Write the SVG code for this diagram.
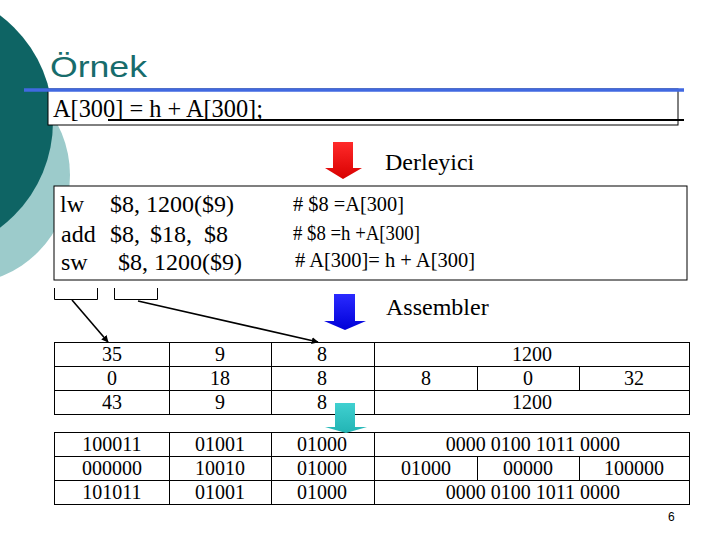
<svg xmlns="http://www.w3.org/2000/svg" width="720" height="540" viewBox="0 0 720 540">
<style>
.serif{font-family:"Liberation Serif","Times New Roman",serif;fill:#000}
.code{font-size:24px}
.cmt{font-size:20px}
.cell{font-size:20px;text-anchor:middle}
.ln{stroke:#000;stroke-width:1;fill:none}
.conn{stroke:#000;stroke-width:1.6;fill:none;marker-end:url(#ah)}
</style>
<defs>
<marker id="ah" viewBox="0 0 10 10" refX="9" refY="5" markerWidth="7" markerHeight="7" markerUnits="userSpaceOnUse" orient="auto">
<path d="M0,0 L10,5 L0,10 z" fill="#000"/>
</marker>
<linearGradient id="gr" x1="0" y1="0" x2="0" y2="1"><stop offset="0" stop-color="#ff2a2a"/><stop offset="1" stop-color="#d80000"/></linearGradient>
<linearGradient id="gb" x1="0" y1="0" x2="0" y2="1"><stop offset="0" stop-color="#2a2aff"/><stop offset="1" stop-color="#0000d8"/></linearGradient>
<linearGradient id="gc" x1="0" y1="0" x2="0" y2="1"><stop offset="0" stop-color="#40d0d0"/><stop offset="1" stop-color="#22b4b4"/></linearGradient>
</defs>
<rect width="720" height="540" fill="#fff"/>
<g id="background">
<circle cx="-39" cy="175" r="109" fill="#9ccbcb"/>
<circle cx="-80" cy="121.5" r="133" fill="#0e6464"/>
</g>
<g id="title">
<text x="50" y="77" font-family="Liberation Sans, Arial, sans-serif" font-size="29" fill="#176c6c" textLength="97" lengthAdjust="spacingAndGlyphs">Örnek</text>
</g>
<g id="statement">
<rect x="48" y="89" width="630" height="36" fill="#fff" stroke="#000" stroke-width="1"/>
<line x1="24" y1="90" x2="684" y2="90" stroke="#4169e1" stroke-width="3.5"/>
<line x1="108" y1="120" x2="684" y2="120" stroke="#000" stroke-width="2"/>
<text class="serif" x="53" y="117" font-size="25" textLength="210" lengthAdjust="spacingAndGlyphs">A[300] = h + A[300];</text>
</g>
<g id="derleyici-arrow">
<polygon points="333,142 353,142 353,168 362,168 343,179 325,168 333,168" fill="url(#gr)"/>
<text class="serif" x="385" y="170" font-size="24">Derleyici</text>
</g>
<g id="assembly-code">
<rect x="54" y="186" width="633" height="94" fill="#fff" stroke="#000" stroke-width="1"/>
<text class="serif code" x="60" y="212">lw</text>
<text class="serif code" x="110" y="212">$8, 1200($9)</text>
<text class="serif code" x="61" y="242">add</text>
<text class="serif code" x="110" y="242">$8,</text>
<text class="serif code" x="150" y="242">$18,</text>
<text class="serif code" x="204" y="242">$8</text>
<text class="serif code" x="61" y="270">sw</text>
<text class="serif code" x="118" y="270">$8, 1200($9)</text>
<text class="serif cmt" x="293" y="211" textLength="111" lengthAdjust="spacingAndGlyphs"># $8 =A[300]</text>
<text class="serif cmt" x="293" y="240" textLength="127" lengthAdjust="spacingAndGlyphs"># $8 =h +A[300]</text>
<text class="serif cmt" x="295" y="267" textLength="180" lengthAdjust="spacingAndGlyphs"># A[300]= h + A[300]</text>
</g>
<g id="brackets">
<polyline class="ln" points="54.5,288 54.5,299.5 97.5,299.5 97.5,288"/>
<polyline class="ln" points="114.5,288 114.5,299.5 157.5,299.5 157.5,288"/>
</g>
<g id="assembler-arrow">
<polygon points="334,294 355,294 355,321 366,321 345,330 324,321 334,321" fill="url(#gb)"/>
<text class="serif" x="386" y="315" font-size="24">Assembler</text>
</g>
<g id="decimal-table">
<rect class="ln" x="54.5" y="342.5" width="635" height="72"/>
<line class="ln" x1="54.5" y1="366.5" x2="689.5" y2="366.5"/>
<line class="ln" x1="54.5" y1="390.5" x2="689.5" y2="390.5"/>
<line class="ln" x1="169.5" y1="342.5" x2="169.5" y2="414.5"/>
<line class="ln" x1="271.5" y1="342.5" x2="271.5" y2="414.5"/>
<line class="ln" x1="374.5" y1="342.5" x2="374.5" y2="414.5"/>
<line class="ln" x1="477.5" y1="366.5" x2="477.5" y2="390.5"/>
<line class="ln" x1="579.5" y1="366.5" x2="579.5" y2="390.5"/>
<text class="serif cell" x="112" y="361">35</text>
<text class="serif cell" x="220" y="361">9</text>
<text class="serif cell" x="322" y="361">8</text>
<text class="serif cell" x="532" y="361">1200</text>
<text class="serif cell" x="112" y="385">0</text>
<text class="serif cell" x="220" y="385">18</text>
<text class="serif cell" x="322" y="385">8</text>
<text class="serif cell" x="426" y="385">8</text>
<text class="serif cell" x="528" y="385">0</text>
<text class="serif cell" x="634" y="385">32</text>
<text class="serif cell" x="112" y="409">43</text>
<text class="serif cell" x="220" y="409">9</text>
<text class="serif cell" x="322" y="409">8</text>
<text class="serif cell" x="532" y="409">1200</text>
</g>
<g id="binary-table">
<rect class="ln" x="54.5" y="432.5" width="635" height="72"/>
<line class="ln" x1="54.5" y1="456.5" x2="689.5" y2="456.5"/>
<line class="ln" x1="54.5" y1="480.5" x2="689.5" y2="480.5"/>
<line class="ln" x1="169.5" y1="432.5" x2="169.5" y2="504.5"/>
<line class="ln" x1="271.5" y1="432.5" x2="271.5" y2="504.5"/>
<line class="ln" x1="374.5" y1="432.5" x2="374.5" y2="504.5"/>
<line class="ln" x1="477.5" y1="456.5" x2="477.5" y2="480.5"/>
<line class="ln" x1="579.5" y1="456.5" x2="579.5" y2="480.5"/>
<text class="serif cell" x="112" y="451">100011</text>
<text class="serif cell" x="220" y="451">01001</text>
<text class="serif cell" x="322" y="451">01000</text>
<text class="serif cell" x="533" y="451">0000 0100 1011 0000</text>
<text class="serif cell" x="112" y="475">000000</text>
<text class="serif cell" x="220" y="475">10010</text>
<text class="serif cell" x="322" y="475">01000</text>
<text class="serif cell" x="426" y="475">01000</text>
<text class="serif cell" x="528" y="475">00000</text>
<text class="serif cell" x="634" y="475">100000</text>
<text class="serif cell" x="112" y="499">101011</text>
<text class="serif cell" x="220" y="499">01001</text>
<text class="serif cell" x="322" y="499">01000</text>
<text class="serif cell" x="533" y="499">0000 0100 1011 0000</text>
</g>
<g id="connectors">
<line class="conn" x1="72" y1="300" x2="108" y2="342"/>
<line class="conn" x1="138" y1="301" x2="318" y2="342"/>
</g>
<g id="binary-arrow">
<polygon points="335,403 355,403 355,427 367,427 346,433 325,427 335,427" fill="url(#gc)"/>
</g>
<g id="page-number">
<text x="668" y="521" font-family="Liberation Sans, Arial, sans-serif" font-size="12" fill="#000">6</text>
</g>
</svg>
